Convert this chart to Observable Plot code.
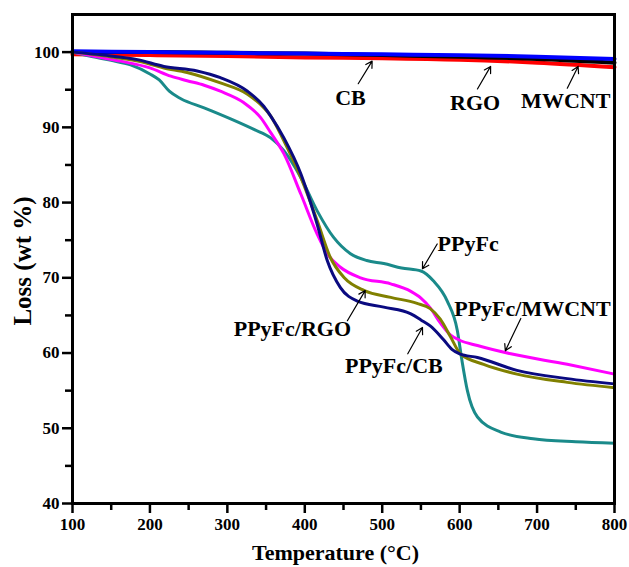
<!DOCTYPE html>
<html>
<head>
<meta charset="utf-8">
<script src="https://cdn.jsdelivr.net/npm/d3@7"></script>
<script src="https://cdn.jsdelivr.net/npm/@observablehq/plot@0.6"></script>
<style>
  html, body { margin: 0; padding: 0; background: #fff; }
  #chart svg { display: block; }
</style>
</head>
<body>
<div id="chart"></div>
<script>
// ---- data ----
const cbT = [100, 200, 300, 400, 500, 600, 700, 800];
const cbW = [99.7, 99.6, 99.5, 99.3, 99.2, 99.0, 98.6, 98.0];
const rgoT = [100, 200, 300, 400, 500, 600, 700, 800];
const rgoW = [100.0, 100.0, 99.9, 99.8, 99.6, 99.4, 99.1, 98.6];
const mwT = [100, 200, 300, 400, 500, 600, 700, 800];
const mwW = [100.1, 100.0, 99.9, 99.8, 99.7, 99.6, 99.4, 99.1];

const ppyT = [100, 125, 150, 175, 200, 212, 225, 240, 270, 305, 335, 356, 373, 395, 416, 437, 459, 480, 502, 525, 550, 566, 584, 597, 603, 610, 623, 653, 695, 750, 800];
const ppyW = [100, 99.4, 98.9, 98.3, 97.1, 96.3, 94.8, 93.8, 92.6, 91.1, 89.7, 88.6, 86.9, 83.3, 78.9, 75.4, 73.2, 72.3, 71.9, 71.3, 70.9, 69.6, 66.9, 63.0, 59.0, 55.0, 51.5, 49.5, 48.6, 48.2, 48.0];

const ppyMwT = [100, 130, 162, 200, 227, 248, 270, 291, 321, 343, 356, 373, 395, 416, 429, 446, 472, 511, 537, 550, 562, 575, 588, 600, 623, 666, 739, 800];
const ppyMwW = [100, 99.4, 98.8, 97.9, 96.8, 96.2, 95.6, 94.8, 93.3, 91.3, 89.3, 86.5, 81.1, 75.8, 73.2, 71.4, 70.0, 69.2, 68.2, 67.3, 66.0, 64.0, 62.4, 61.7, 61.0, 59.9, 58.5, 57.2];

const ppyRgoT = [100, 140, 184, 218, 248, 291, 326, 347, 356, 373, 395, 416, 433, 451, 477, 511, 545, 562, 575, 588, 601, 631, 674, 739, 800];
const ppyRgoW = [100, 99.5, 98.8, 97.9, 97.3, 95.9, 94.4, 92.6, 91.5, 88.2, 83.3, 77.6, 72.7, 70.0, 68.3, 67.4, 66.6, 65.9, 64.5, 62.2, 59.9, 58.5, 57.2, 56.1, 55.4];

const ppyCbT = [100, 140, 184, 218, 261, 291, 326, 347, 356, 373, 395, 416, 429, 446, 468, 502, 537, 550, 562, 579, 590, 600, 623, 674, 739, 800];
const ppyCbW = [100, 99.6, 99.0, 98.1, 97.5, 96.6, 94.8, 92.8, 91.5, 88.6, 83.8, 77.1, 72.3, 68.7, 66.9, 66.1, 65.2, 64.4, 63.6, 61.8, 60.5, 59.9, 59.4, 57.7, 56.6, 55.9];

const xTicks = [100, 200, 300, 400, 500, 600, 700, 800];
const xMinor = [150, 250, 350, 450, 550, 650, 750];
const yTicks = [40, 50, 60, 70, 80, 90, 100];
const yMinor = [45, 55, 65, 75, 85, 95];

// annotation labels (data units) and arrows
const labelText = ["CB", "RGO", "MWCNT", "PPyFc", "PPyFc/MWCNT", "PPyFc/CB", "PPyFc/RGO"];
const labelX    = [459, 620, 737, 611, 694, 515, 384];
const labelY    = [93.9, 93.2, 93.5, 74.5, 65.9, 58.3, 63.2];
const arrowX1   = [469, 623, 739, 571, 679, 533, 455];
const arrowY1   = [95.8, 95.1, 95.2, 74.5, 64.6, 59.9, 64.3];
const arrowX2   = [487, 640, 753, 552, 659, 552, 478];
const arrowY2   = [98.8, 98.1, 98.1, 71.2, 60.3, 63.4, 68.3];

const seriesDefs = [
  {T: cbT, W: cbW, color: "#ff0000", w: 4},
  {T: rgoT, W: rgoW, color: "#000000", w: 4},
  {T: mwT, W: mwW, color: "#0000ff", w: 4},
  {T: ppyT, W: ppyW, color: "#1a8a8a", w: 3},
  {T: ppyMwT, W: ppyMwW, color: "#ff00ff", w: 3},
  {T: ppyRgoT, W: ppyRgoW, color: "#808000", w: 3},
  {T: ppyCbT, W: ppyCbW, color: "#0a0a80", w: 3}
];

const labels = labelText.map((t, i) => ({t, x: labelX[i], y: labelY[i]}));
const arrows = labelText.map((t, i) => ({x1: arrowX1[i], y1: arrowY1[i], x2: arrowX2[i], y2: arrowY2[i]}));

const font = "'Liberation Serif', 'Times New Roman', serif";

const lineMarks = seriesDefs.map(s =>
  Plot.line(s.T.map((t, i) => ({t, w: s.W[i]})), {
    x: "t", y: "w", stroke: s.color, strokeWidth: s.w, curve: "monotone-x"
  })
);

const chart = Plot.plot({
  width: 629,
  height: 567,
  marginLeft: 72,
  marginRight: 15,
  marginTop: 14,
  marginBottom: 64,
  style: {fontFamily: font, fontSize: "17px", fontWeight: "bold", color: "#000", background: "#fff"},
  x: {domain: [100, 800]},
  y: {domain: [40, 105]},
  marks: [
    ...lineMarks,
    Plot.frame({stroke: "#000", strokeWidth: 3}),
    Plot.axisX({ticks: xMinor, tickSize: 7, strokeWidth: 2.5, text: null, label: null}),
    Plot.axisX({ticks: xTicks, tickSize: 10, tickPadding: 4, strokeWidth: 2.5, tickFormat: d => String(d), label: null, fontSize: 17, fontWeight: "bold"}),
    Plot.axisY({ticks: yMinor, tickSize: 7, strokeWidth: 2.5, text: null, label: null}),
    Plot.axisY({ticks: yTicks, tickSize: 10, tickPadding: 3, strokeWidth: 2.5, tickFormat: d => String(d), label: null, fontSize: 17, fontWeight: "bold"}),
    Plot.arrow(arrows, {x1: "x1", y1: "y1", x2: "x2", y2: "y2", stroke: "#000", strokeWidth: 1.2, headLength: 9, bend: 0}),
    Plot.text(labels, {x: "x", y: "y", text: "t", fontSize: 22, fontWeight: "bold", fill: "#000", fontFamily: font, letterSpacing: "-0.5px"}),
    Plot.text(["Temperature (°C)"], {frameAnchor: "bottom", textAnchor: "middle", lineAnchor: "middle", dy: 49, dx: -8, fontSize: 22, fontWeight: "bold", fontFamily: font}),
    Plot.text(["Loss (wt %)"], {frameAnchor: "left", textAnchor: "middle", lineAnchor: "middle", dx: -50, dy: 2, rotate: -90, fontSize: 25, fontWeight: "bold", fontFamily: font})
  ]
});
document.getElementById("chart").appendChild(chart);
</script>
</body>
</html>
